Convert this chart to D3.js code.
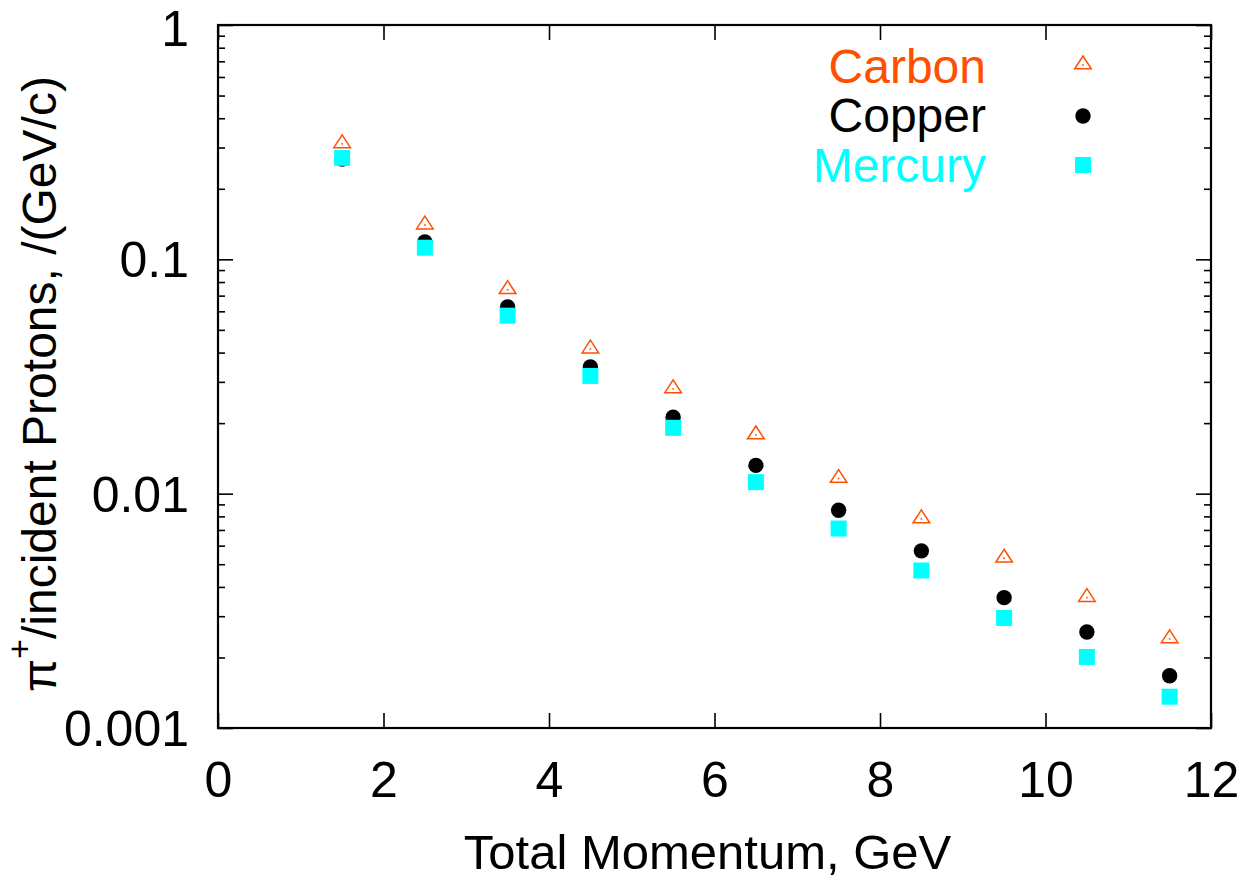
<!DOCTYPE html>
<html>
<head>
<meta charset="utf-8">
<script src="https://cdn.jsdelivr.net/npm/d3@7"></script>
<style>
  html, body { margin: 0; padding: 0; background: #fff; }
  svg { display: block; }
  text { font-family: "Liberation Sans", Arial, Helvetica, sans-serif; }
</style>
</head>
<body>
<svg id="chart" width="1249" height="880"></svg>
<script>
// ---- data ----
const momentum = [1.5, 2.5, 3.5, 4.5, 5.5, 6.5, 7.5, 8.5, 9.5, 10.5, 11.5];
const carbon   = [0.311, 0.140, 0.0742, 0.0414, 0.0280, 0.0178, 0.0116, 0.0078, 0.0053, 0.0036, 0.0024];
const copper   = [0.268, 0.1186, 0.0626, 0.0347, 0.0212, 0.0132, 0.0085, 0.0057, 0.0036, 0.00257, 0.00167];
const mercury  = [0.271, 0.1121, 0.0575, 0.0318, 0.0191, 0.0112, 0.0071, 0.0047, 0.00295, 0.00201, 0.00136];
const seriesNames = ["Carbon", "Copper", "Mercury"];
const xTickValues = [0, 2, 4, 6, 8, 10, 12];
const yTickValues = [0.001, 0.01, 0.1, 1];
const yTickLabels = ["0.001", "0.01", "0.1", "1"];
const xLabel = "Total Momentum, GeV";
const yLabelRest = "/incident Protons, /(GeV/c)";

// ---- layout ----
const svg = d3.select("#chart");
const L = 218, R = 1211, T = 25, B = 728;
const x = d3.scaleLinear().domain([0, 12]).range([L, R]);
const y = d3.scaleLog().domain([0.001, 1]).range([B, T]);
const FS = 50;
const colors = { Carbon: "#ff4f00", Copper: "#000000", Mercury: "#00ffff" };

// minor y ticks
const yMinor = [];
for (let e = -3; e < 0; e++) for (let k = 2; k <= 9; k++) yMinor.push(k * Math.pow(10, e));

function styleAxis(g) {
  g.selectAll(".domain").remove();
  g.selectAll(".tick line").attr("stroke", "#000").attr("stroke-width", 1.6);
  g.selectAll("text").attr("font-size", FS).attr("fill", "#000")
    .style("font-family", "'Liberation Sans', Arial, sans-serif");
}

// bottom
svg.append("g").attr("transform", `translate(0,${B})`)
  .call(d3.axisBottom(x).tickValues(xTickValues).tickFormat(d3.format("d"))
    .tickSizeInner(-15).tickSizeOuter(0).tickPadding(33))
  .call(styleAxis);
// top
svg.append("g").attr("transform", `translate(0,${T})`)
  .call(d3.axisTop(x).tickValues(xTickValues).tickFormat("")
    .tickSizeInner(-15).tickSizeOuter(0))
  .call(styleAxis);
// left major
const leftAxis = svg.append("g").attr("transform", `translate(${L},0)`)
  .call(d3.axisLeft(y).tickValues(yTickValues)
    .tickFormat((d, i) => yTickLabels[i])
    .tickSizeInner(-15).tickSizeOuter(0).tickPadding(29))
  .call(styleAxis);
leftAxis.selectAll("text").attr("dy", d => d === 1 ? "0.41em" : "0.35em");
// left minor
svg.append("g").attr("transform", `translate(${L},0)`)
  .call(d3.axisLeft(y).tickValues(yMinor).tickFormat("")
    .tickSizeInner(-7).tickSizeOuter(0))
  .call(styleAxis);
// right major + minor
svg.append("g").attr("transform", `translate(${R},0)`)
  .call(d3.axisRight(y).tickValues(yTickValues).tickFormat("")
    .tickSizeInner(-15).tickSizeOuter(0))
  .call(styleAxis);
svg.append("g").attr("transform", `translate(${R},0)`)
  .call(d3.axisRight(y).tickValues(yMinor).tickFormat("")
    .tickSizeInner(-7).tickSizeOuter(0))
  .call(styleAxis);

// frame
svg.append("rect").attr("x", L).attr("y", T).attr("width", R - L).attr("height", B - T)
  .attr("fill", "none").attr("stroke", "#000").attr("stroke-width", 2.2);

// ---- markers ----
const triPath = "M0,-9 L8.3,3.8 L-8.3,3.8 Z";
function drawTriangle(g, cx, cy) {
  g.append("path").attr("d", triPath).attr("transform", `translate(${cx},${cy})`)
    .attr("fill", "none").attr("stroke", colors.Carbon).attr("stroke-width", 1.5);
  g.append("rect").attr("x", cx - 0.8).attr("y", cy - 0.8).attr("width", 1.6).attr("height", 1.6)
    .attr("fill", colors.Carbon);
}
function drawCircle(g, cx, cy) {
  g.append("circle").attr("cx", cx).attr("cy", cy).attr("r", 7.7).attr("fill", colors.Copper);
}
function drawSquare(g, cx, cy) {
  g.append("rect").attr("x", cx - 8).attr("y", cy - 8).attr("width", 16).attr("height", 16)
    .attr("fill", colors.Mercury);
}

const gC = svg.append("g");
momentum.forEach((m, i) => drawTriangle(gC, x(m), y(carbon[i])));
const gCu = svg.append("g");
momentum.forEach((m, i) => drawCircle(gCu, x(m), y(copper[i])));
const gHg = svg.append("g");
momentum.forEach((m, i) => drawSquare(gHg, x(m), y(mercury[i])));

// ---- legend ----
const legX = 986, symX = 1083;
const legBase = [83, 131.5, 181.5];
const legSym = [65, 116, 165];
const drawers = [drawTriangle, drawCircle, drawSquare];
seriesNames.forEach((name, i) => {
  svg.append("text").attr("x", legX).attr("y", legBase[i]).attr("text-anchor", "end")
    .attr("font-size", 48).attr("fill", colors[name]).text(name);
  drawers[i](svg, symX, legSym[i]);
});

// ---- axis titles ----
svg.append("text").attr("x", (L + R) / 2 - 7).attr("y", 869).attr("text-anchor", "middle")
  .attr("font-size", 49).attr("fill", "#000").text(xLabel);

const yl = svg.append("text").attr("transform", `translate(56,${692}) rotate(-90)`)
  .attr("text-anchor", "start").attr("font-size", 48).attr("fill", "#000");
yl.append("tspan").text("π");
yl.append("tspan").attr("font-size", 34).attr("dy", -25).text("+");
yl.append("tspan").attr("dy", 25).text(yLabelRest);
</script>
</body>
</html>
